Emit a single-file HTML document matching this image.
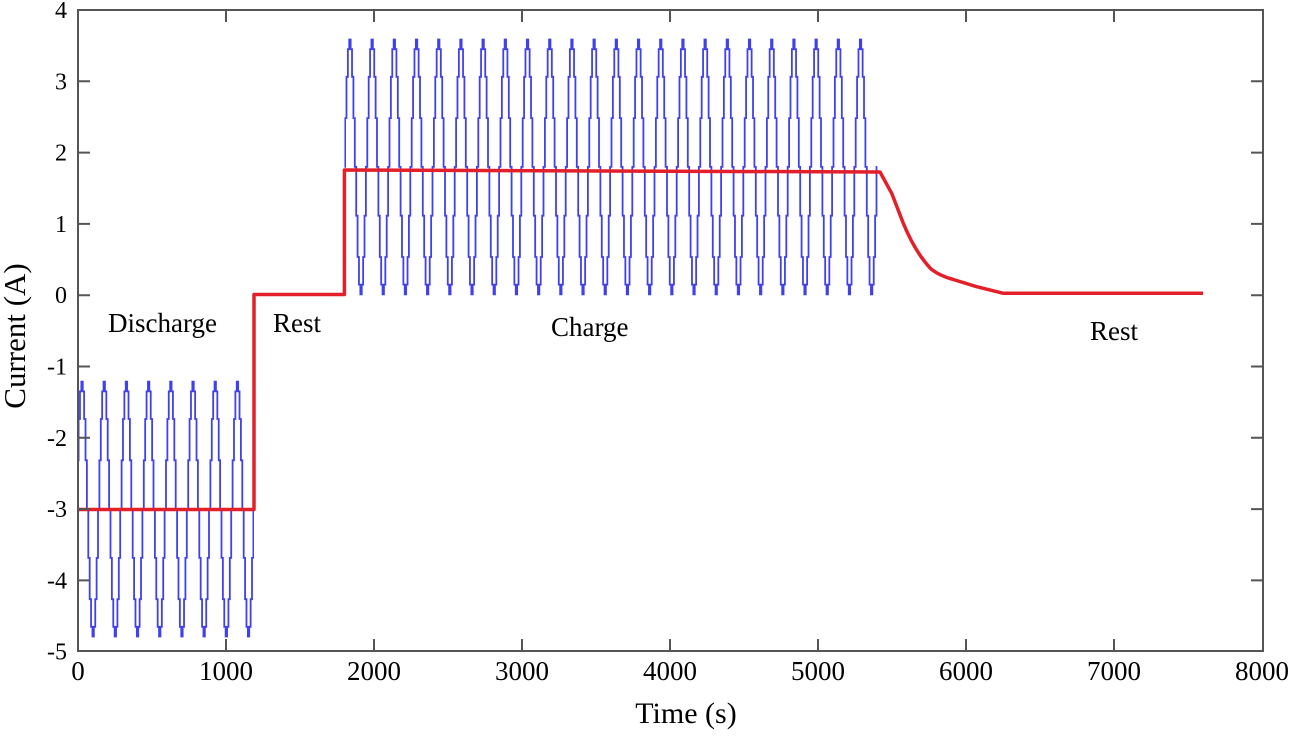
<!DOCTYPE html>
<html>
<head>
<meta charset="utf-8">
<style>
html,body{margin:0;padding:0;background:#fff;}
svg{display:block;}
text{font-family:"Liberation Serif","Times New Roman",serif;fill:#000;}
</style>
</head>
<body>
<svg width="1294" height="736" viewBox="0 0 1294 736" xmlns="http://www.w3.org/2000/svg">
<defs>
  <path id="per" d="M0,0 H0.694 V-48.8 H2.081 V-90.1 H3.469 V-117.7 H4.856 V-127.4 H6.244 V-117.7 H7.631 V-90.1 H9.019 V-48.8 H10.406 V0 H11.794 V48.8 H13.181 V90.1 H14.569 V117.7 H15.956 V127.4 H17.344 V117.7 H18.731 V90.1 H20.119 V48.8 H21.506 V0 H22.2" fill="none" stroke="#4040ee" stroke-width="1.8"/>
  <clipPath id="dclip"><rect x="78" y="300" width="176" height="360"/></clipPath>
  <clipPath id="cclip"><rect x="344.4" y="20" width="534" height="290"/></clipPath>
</defs>

<!-- discharge wave -->
<g clip-path="url(#dclip)">
  <g transform="translate(76.5,509.1)">
    <use href="#per" x="0"/><use href="#per" x="22.2"/><use href="#per" x="44.4"/><use href="#per" x="66.6"/>
    <use href="#per" x="88.8"/><use href="#per" x="111"/><use href="#per" x="133.2"/><use href="#per" x="155.4"/>
    <use href="#per" x="177.6"/>
  </g>
</g>

<!-- charge wave -->
<g clip-path="url(#cclip)">
  <g transform="translate(344.4,166.9)">
    <use href="#per" x="0"/><use href="#per" x="22.2"/><use href="#per" x="44.4"/><use href="#per" x="66.6"/>
    <use href="#per" x="88.8"/><use href="#per" x="111"/><use href="#per" x="133.2"/><use href="#per" x="155.4"/>
    <use href="#per" x="177.6"/><use href="#per" x="199.8"/><use href="#per" x="222"/><use href="#per" x="244.2"/>
    <use href="#per" x="266.4"/><use href="#per" x="288.6"/><use href="#per" x="310.8"/><use href="#per" x="333"/>
    <use href="#per" x="355.2"/><use href="#per" x="377.4"/><use href="#per" x="399.6"/><use href="#per" x="421.8"/>
    <use href="#per" x="444"/><use href="#per" x="466.2"/><use href="#per" x="488.4"/><use href="#per" x="510.6"/>
  </g>
</g>

<!-- red current profile -->
<path d="M78,509.5 H254 V294.5 H344.4 V170 L880,172 L891.7,193.3 L903.3,223.3 Q915,252 931,269 Q940,276 953.3,279.5 L976.7,286.7 L1003.3,293.3 H1203"
      fill="none" stroke="#e3202a" stroke-width="3.5" stroke-linejoin="round"/>

<!-- axes box -->
<rect x="78" y="10" width="1185" height="641" fill="none" stroke="#555" stroke-width="2"/>

<!-- ticks -->
<g stroke="#555" stroke-width="2">
  <path d="M226,651 v-12 M374,651 v-12 M522,651 v-12 M670,651 v-12 M818,651 v-12 M966,651 v-12 M1114,651 v-12
           M226,10 v12 M374,10 v12 M522,10 v12 M670,10 v12 M818,10 v12 M966,10 v12 M1114,10 v12"/>
  <path d="M78,81.3 h12 M78,152.6 h12 M78,223.9 h12 M78,295.2 h12 M78,366.5 h12 M78,437.8 h12 M78,509.1 h12 M78,580.4 h12
           M1263,81.3 h-12 M1263,152.6 h-12 M1263,223.9 h-12 M1263,295.2 h-12 M1263,366.5 h-12 M1263,437.8 h-12 M1263,509.1 h-12 M1263,580.4 h-12"/>
</g>

<!-- y tick labels -->
<g font-size="24" text-anchor="end">
  <text x="67" y="18">4</text>
  <text x="67" y="89.3">3</text>
  <text x="67" y="160.6">2</text>
  <text x="67" y="231.9">1</text>
  <text x="67" y="303.2">0</text>
  <text x="67" y="374.5">-1</text>
  <text x="67" y="445.8">-2</text>
  <text x="67" y="517.1">-3</text>
  <text x="67" y="588.4">-4</text>
  <text x="67" y="659.7">-5</text>
</g>

<!-- x tick labels -->
<g font-size="27" text-anchor="middle">
  <text x="78" y="680">0</text>
  <text x="226" y="680">1000</text>
  <text x="374" y="680">2000</text>
  <text x="522" y="680">3000</text>
  <text x="670" y="680">4000</text>
  <text x="818" y="680">5000</text>
  <text x="966" y="680">6000</text>
  <text x="1114" y="680">7000</text>
  <text x="1262" y="680">8000</text>
</g>

<!-- axis labels -->
<text x="686" y="723" font-size="30" text-anchor="middle">Time (s)</text>
<text transform="translate(25,336) rotate(-90)" font-size="31" text-anchor="middle">Current (A)</text>

<!-- annotations -->
<g font-size="27">
  <text x="108" y="332">Discharge</text>
  <text x="273" y="332">Rest</text>
  <text x="551" y="336">Charge</text>
  <text x="1090" y="340">Rest</text>
</g>
</svg>
</body>
</html>
